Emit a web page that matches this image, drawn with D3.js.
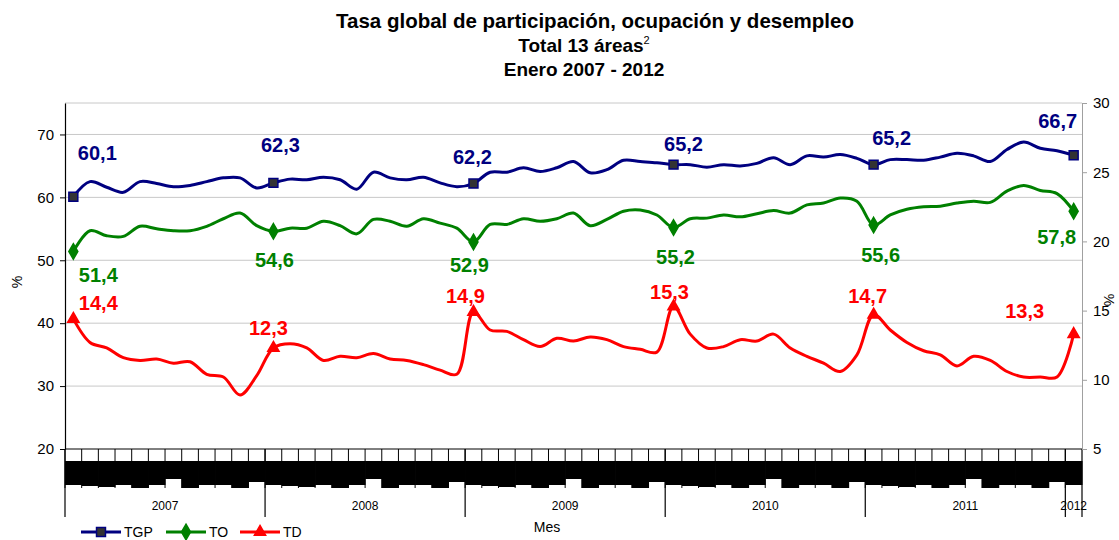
<!DOCTYPE html>
<html>
<head>
<meta charset="utf-8">
<script src="https://cdn.jsdelivr.net/npm/d3@7"></script>
<style>
  body { margin: 0; background: #fff; }
  text { font-family: Arial, "Liberation Sans", sans-serif; }
</style>
</head>
<body>
<script>
var years = [2007, 2008, 2009, 2010, 2011, 2012]
var months = ["ene", "feb", "mar", "abr", "may", "jun", "jul", "ago", "sep", "oct", "nov", "dic"]

// enero 2007 ... enero 2012
var categories = []
years.forEach(function(y) {
  months.forEach(function(m, i) {
    if (y < 2012 || i == 0) categories.push(m + "-" + String(y).slice(2))
  })
})

var tgp = [
  60.1, 62.5, 61.6, 60.8, 62.5, 62.2, 61.7, 61.9, 62.5, 63.1, 63.1, 61.5,
  62.3, 62.9, 62.8, 63.2, 62.8, 61.3, 64.0, 63.1, 62.8, 63.2, 62.3, 61.7,
  62.2, 64.0, 64.0, 64.7, 64.1, 64.7, 65.7, 63.9, 64.4, 65.9, 65.7, 65.5,
  65.2, 65.2, 64.8, 65.2, 65.0, 65.4, 66.3, 65.2, 66.6, 66.4, 66.8, 66.2,
  65.2, 66.0, 66.0, 65.9, 66.4, 67.0, 66.6, 65.7, 67.6, 68.8, 67.8, 67.4,
  66.7
]
var to = [
  51.4, 54.7, 53.9, 53.8, 55.4, 55.0, 54.7, 54.7, 55.4, 56.6, 57.5, 55.5,
  54.6, 55.1, 55.1, 56.2, 55.5, 54.2, 56.5, 56.2, 55.4, 56.6, 55.9, 55.1,
  52.9, 55.7, 55.7, 56.6, 56.2, 56.6, 57.5, 55.5, 56.5, 57.8, 58.0, 57.2,
  55.2, 56.6, 56.7, 57.2, 56.9, 57.4, 57.9, 57.5, 58.8, 59.1, 59.9, 59.4,
  55.6, 57.2, 58.1, 58.5, 58.6, 59.1, 59.4, 59.2, 61.0, 61.9, 61.1, 60.6,
  57.8
]
var td = [
  14.4, 12.7, 12.3, 11.6, 11.4, 11.5, 11.2, 11.3, 10.4, 10.2, 8.9, 10.3,
  12.3, 12.6, 12.3, 11.4, 11.7, 11.6, 11.9, 11.5, 11.4, 11.1, 10.7, 10.4,
  14.9, 13.6, 13.5, 12.9, 12.4, 13.0, 12.8, 13.1, 12.9, 12.4, 12.2, 12.0,
  15.3, 13.3, 12.3, 12.4, 12.9, 12.8, 13.3, 12.3, 11.7, 11.2, 10.6, 11.8,
  14.7, 13.6, 12.7, 12.1, 11.8, 11.0, 11.7, 11.4, 10.6, 10.2, 10.2, 10.2,
  13.3
]

var leftTicks = [20, 30, 40, 50, 60, 70]
var rightTicks = [5, 10, 15, 20, 25, 30]

var W = 1119, H = 540
var plotL = 65, plotR = 1082, plotT = 103, plotB = 449

var svg = d3.select("body").append("svg")
  .attr("width", W)
  .attr("height", H)

var x = d3.scaleBand().domain(categories).range([plotL, plotR])
var bw = x.bandwidth()
var cx = function(i) { return x(categories[i]) + bw / 2 }
var yL = d3.scaleLinear().domain([20, 75]).range([plotB, plotT])
var yR = d3.scaleLinear().domain([5, 30]).range([plotB, plotT])

// title
var title = svg.append("text")
  .attr("text-anchor", "middle")
  .attr("font-weight", "bold")
  .attr("font-size", "19px")
title.append("tspan").attr("x", 595).attr("y", 28).attr("font-size", "20.5px")
  .text("Tasa global de participación, ocupación y desempleo")
title.append("tspan").attr("x", 584).attr("y", 52).text("Total 13 áreas")
title.append("tspan").attr("dy", -8).attr("font-size", "11px").attr("font-weight", "normal").text("2")
title.append("tspan").attr("x", 584).attr("y", 76).text("Enero 2007 - 2012")

// grid + plot border
svg.selectAll("line.grid")
  .data([30, 40, 50, 60, 70]).enter()
  .append("line")
  .attr("x1", plotL).attr("x2", plotR)
  .attr("y1", function(d) { return yL(d) })
  .attr("y2", function(d) { return yL(d) })
  .attr("stroke", "#c8c8c8")
svg.append("line")
  .attr("x1", plotL).attr("x2", plotR)
  .attr("y1", plotT).attr("y2", plotT)
  .attr("stroke", "#c8c8c8")

// month ticks, label blocks and year separators
var depth = [24, 25, 26, 24, 27, 24, 18, 27, 24, 24, 27, 21]
svg.selectAll("line.mtick")
  .data(categories).enter()
  .append("line")
  .attr("x1", function(d) { return x(d) })
  .attr("x2", function(d) { return x(d) })
  .attr("y1", plotB).attr("y2", 488)
  .attr("stroke", "#000")
svg.selectAll("rect.mlabel")
  .data(categories).enter()
  .append("rect")
  .attr("x", function(d) { return x(d) })
  .attr("y", 461)
  .attr("width", bw + 0.5)
  .attr("height", function(d, i) { return depth[i % 12] })
  .attr("fill", "#000")

var yearEdges = years.map(function(y, k) { return x(categories[k * 12]) }).concat([plotR])
svg.selectAll("line.ysep")
  .data(yearEdges).enter()
  .append("line")
  .attr("x1", function(d) { return d })
  .attr("x2", function(d) { return d })
  .attr("y1", plotB).attr("y2", 517)
  .attr("stroke", "#000")
  .attr("stroke-width", 1.2)

svg.selectAll("text.year")
  .data(years).enter()
  .append("text")
  .attr("x", function(d, k) { return (yearEdges[k] + yearEdges[k + 1]) / 2 })
  .attr("y", 510)
  .attr("text-anchor", "middle")
  .attr("font-size", "12px")
  .text(function(d) { return d })

svg.append("line")
  .attr("x1", plotL).attr("x2", plotR)
  .attr("y1", plotB).attr("y2", plotB)
  .attr("stroke", "#000")

// axes
var axL = svg.append("g")
  .attr("transform", "translate(" + plotL + ",0)")
  .call(d3.axisLeft(yL).tickValues(leftTicks).tickSize(5).tickSizeOuter(0).tickPadding(6))
axL.selectAll("text").attr("font-size", "15px").attr("fill", "#000").attr("font-family", null)
axL.select(".domain").attr("stroke", "#000").attr("stroke-width", 1.2)

var axR = svg.append("g")
  .attr("transform", "translate(" + plotR + ",0)")
  .call(d3.axisRight(yR).tickValues(rightTicks).tickSize(5).tickSizeOuter(0).tickPadding(6))
axR.selectAll("text").attr("font-size", "15px").attr("fill", "#000").attr("font-family", null)
axR.select(".domain").attr("stroke", "#a0a0a0")
axR.selectAll(".tick line").attr("stroke", "#a0a0a0")

svg.append("text")
  .attr("transform", "translate(22,282) rotate(-90)")
  .attr("text-anchor", "middle")
  .attr("font-size", "14px")
  .text("%")
svg.append("text")
  .attr("transform", "translate(1104,300) rotate(90)")
  .attr("text-anchor", "middle")
  .attr("font-size", "14px")
  .text("%")

svg.append("text")
  .attr("x", 547).attr("y", 532)
  .attr("text-anchor", "middle")
  .attr("font-size", "14px")
  .text("Mes")

// series
var series = [
  {name: "TGP", values: tgp, y: yL, color: "#000080", symbol: d3.symbolSquare, size: 80, fill: "#333333",
   offs: [[24, -37], [7, -31], [-1, -20], [10, -14], [18, -20], [-16, -27]]},
  {name: "TO", values: to, y: yL, color: "#008000", symbol: d3.symbolDiamond, size: 70, fill: "#008000",
   offs: [[25, 31], [1, 36], [-4, 30], [2, 36], [7, 37], [-17, 33]]},
  {name: "TD", values: td, y: yR, color: "#ff0000", symbol: d3.symbolTriangle, size: 55, fill: "#ff0000",
   offs: [[25, -9], [-5, -13], [-8, -9], [-4, -7], [-6, -12], [-49, -16]]}
]

series.forEach(function(s) {
  var line = d3.line()
    .x(function(d, i) { return cx(i) })
    .y(function(d) { return s.y(d) })
    .curve(d3.curveCatmullRom)
  svg.append("path")
    .attr("d", line(s.values))
    .attr("fill", "none")
    .attr("stroke", s.color)
    .attr("stroke-width", 3)
    .attr("stroke-linejoin", "round")

  var jan = s.values.map(function(v, i) { return {v: v, i: i} })
    .filter(function(d) { return d.i % 12 == 0 })

  svg.selectAll("path.m" + s.name)
    .data(jan).enter()
    .append("path")
    .attr("transform", function(d) { return "translate(" + cx(d.i) + "," + s.y(d.v) + ")" })
    .attr("d", d3.symbol().type(s.symbol).size(s.size))
    .attr("fill", s.fill)
    .attr("stroke", s.color)
    .attr("stroke-width", 1.5)

  svg.selectAll("text.l" + s.name)
    .data(jan).enter()
    .append("text")
    .attr("x", function(d, k) { return cx(d.i) + s.offs[k][0] })
    .attr("y", function(d, k) { return s.y(d.v) + s.offs[k][1] })
    .attr("text-anchor", "middle")
    .attr("font-size", "20px")
    .attr("font-weight", "bold")
    .attr("fill", s.color)
    .text(function(d) { return d3.format(".1f")(d.v).replace(".", ",") })
})

// legend
var lx = [81, 166, 240]
series.forEach(function(s, k) {
  var g = svg.append("g").attr("transform", "translate(" + lx[k] + ",532)")
  g.append("line").attr("x1", 0).attr("x2", 40).attr("stroke", s.color).attr("stroke-width", 3)
  g.append("path")
    .attr("transform", "translate(20,0)")
    .attr("d", d3.symbol().type(s.symbol).size(s.size))
    .attr("fill", s.fill)
    .attr("stroke", s.color)
    .attr("stroke-width", 1.5)
  g.append("text").attr("x", 43).attr("y", 5).attr("font-size", "14px").text(s.name)
})
</script>
</body>
</html>
